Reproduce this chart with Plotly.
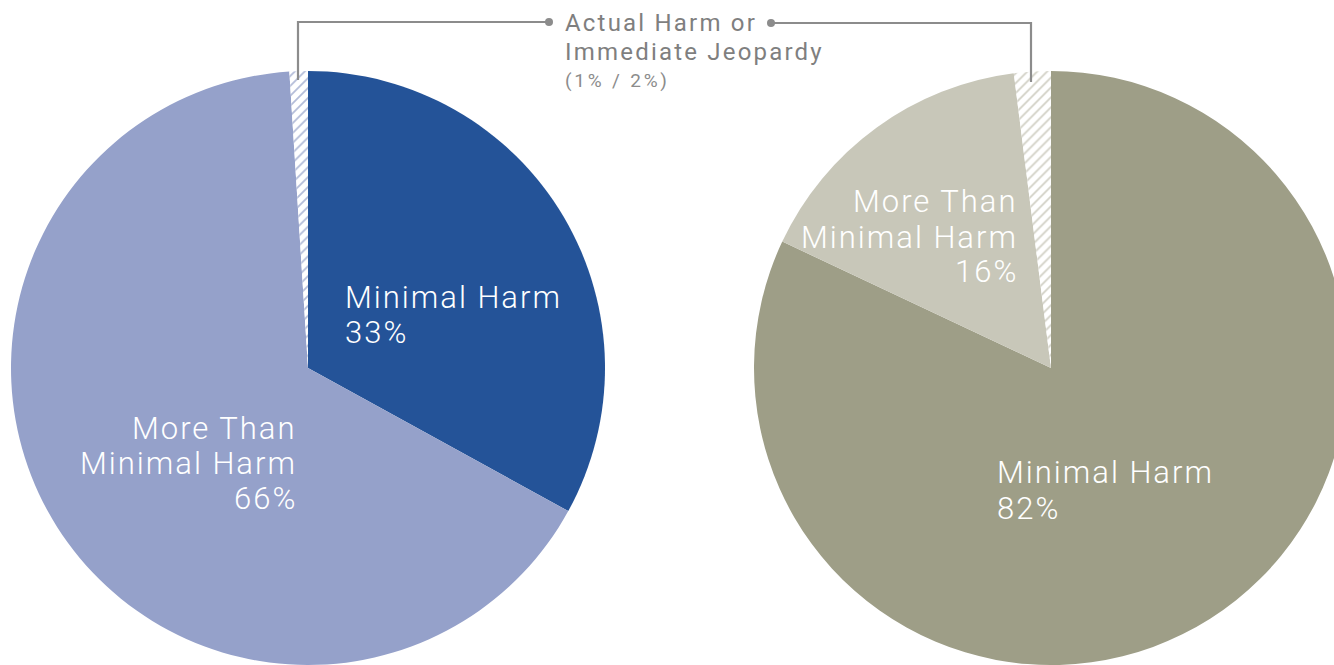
import plotly.graph_objects as go

# ---- data ----
categories = ["Minimal Harm", "More Than Minimal Harm", "Actual Harm or Immediate Jeopardy"]
left_values = [33, 66, 1]
right_values = [82, 16, 2]
left_colors = ["#245398", "#95A1CA", "#FFFFFF"]
right_colors = ["#9E9E87", "#C8C7B9", "#FFFFFF"]
hatch_left = "#B4BDD9"
hatch_right = "#D2D1C6"

W, H = 1348, 665
FONT = "Roboto"


def px(x):
    return x / W


def py(y):
    return 1 - y / H


fig = go.Figure()

fig.add_trace(go.Pie(
    labels=categories, values=left_values, sort=False, direction="clockwise", rotation=0,
    marker=dict(colors=left_colors, line=dict(width=0),
                pattern=dict(shape=["", "", "/"], fgcolor=hatch_left, bgcolor="#FFFFFF",
                             size=7, solidity=0.25)),
    textinfo="none", hoverinfo="label+percent", showlegend=False,
    domain=dict(x=[px(11), px(605)], y=[0, py(71)]),
))
fig.add_trace(go.Pie(
    labels=categories, values=right_values, sort=False, direction="clockwise", rotation=0,
    marker=dict(colors=right_colors, line=dict(width=0),
                pattern=dict(shape=["", "", "/"], fgcolor=hatch_right, bgcolor="#FFFFFF",
                             size=7, solidity=0.25)),
    textinfo="none", hoverinfo="label+percent", showlegend=False,
    domain=dict(x=[px(754), px(1348)], y=[0, py(71)]),
))


def txt(s, spacing):
    return f'<span style="letter-spacing:{spacing}px">{s}</span>'


annotations = []


def add_label(text, x, y, anchor, size=31, color="white", spacing=2.0, weight=300):
    annotations.append(dict(
        text=txt(text, spacing), x=px(x), y=py(y), xref="paper", yref="paper",
        xanchor=anchor, yanchor="middle", showarrow=False, borderpad=0,
        font=dict(family=FONT, size=size, color=color, weight=weight),
    ))


# left pie labels
add_label("Minimal Harm", 344, 297, "left")
add_label(f"{left_values[0]}%", 344, 332, "left")
add_label("More Than", 298, 428, "right")
add_label("Minimal Harm", 298, 463, "right")
add_label(f"{left_values[1]}%", 298, 498, "right")
# right pie labels
add_label("More Than", 1019, 202, "right")
add_label("Minimal Harm", 1019, 237, "right")
add_label(f"{right_values[1]}%", 1019, 271, "right")
add_label("Minimal Harm", 996, 472, "left")
add_label(f"{right_values[0]}%", 996, 508, "left")

# callout text
add_label("Actual Harm or", 564, 23, "left", size=24, color="#7F7F7F", spacing=2.2, weight=400)
add_label("Immediate Jeopardy", 564, 52, "left", size=24, color="#7F7F7F", spacing=2.2, weight=400)
add_label(f"({left_values[2]}% / {right_values[2]}%)", 564, 81, "left", size=19, color="#8C8C8C",
          spacing=2.8, weight=400)

line_col = "#8C8C8C"
shapes = [
    dict(type="path", xref="paper", yref="paper",
         path=f"M {px(298)},{py(80)} L {px(298)},{py(22)} L {px(549)},{py(22)}",
         line=dict(color=line_col, width=2.2)),
    dict(type="path", xref="paper", yref="paper",
         path=f"M {px(771)},{py(23)} L {px(1031)},{py(23)} L {px(1031)},{py(82)}",
         line=dict(color=line_col, width=2.2)),
    dict(type="circle", xref="paper", yref="paper",
         x0=px(545), x1=px(553), y0=py(18), y1=py(26),
         fillcolor=line_col, line=dict(width=0)),
    dict(type="circle", xref="paper", yref="paper",
         x0=px(767), x1=px(775), y0=py(19), y1=py(27),
         fillcolor=line_col, line=dict(width=0)),
]

fig.update_layout(
    width=W, height=H, margin=dict(l=0, r=0, t=0, b=0),
    paper_bgcolor="white", plot_bgcolor="white",
    annotations=annotations, shapes=shapes, showlegend=False,
)

post = ("var d=document.getElementById('{plot_id}');"
        "d.style.width='1334px';d.style.overflow='hidden';"
        "document.body.style.overflow='hidden';document.body.style.margin='0';"
        "document.documentElement.style.overflow='hidden';")
fig.write_html("out.html", post_script=post)
